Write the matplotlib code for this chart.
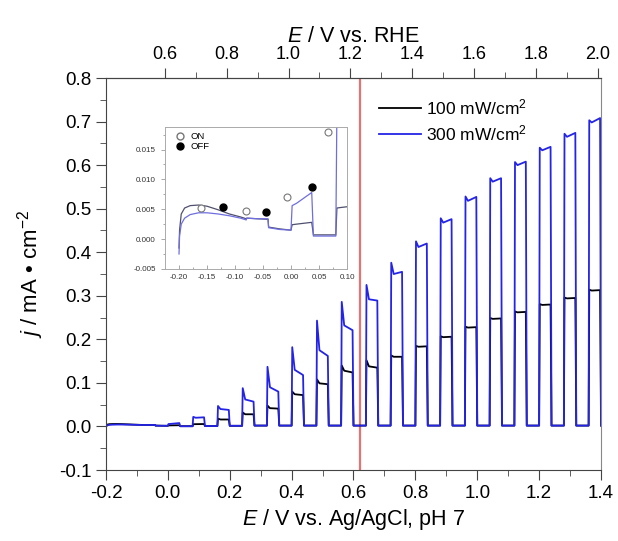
import matplotlib
matplotlib.use("Agg")
import matplotlib.pyplot as plt
from matplotlib.ticker import MultipleLocator, FixedLocator
from matplotlib.lines import Line2D

plt.rcParams["font.family"] = ["Liberation Sans", "DejaVu Sans"]
plt.rcParams["mathtext.fontset"] = "custom"
plt.rcParams["mathtext.it"] = "Liberation Sans:italic"
plt.rcParams["mathtext.rm"] = "Liberation Sans"

RHE_OFFSET = 0.61      # E(RHE) = E(Ag/AgCl) + 0.61 V at pH 7
E_OER_RHE = 1.23       # water oxidation potential
rhe_ticks = [0.6, 0.8, 1.0, 1.2, 1.4, 1.6, 1.8, 2.0]
rhe_minor = [0.7, 0.9, 1.1, 1.3, 1.5, 1.7, 1.9]

# dark scan before chopping starts (V vs Ag/AgCl, mA/cm2)
pre_E = [-0.200, -0.199, -0.196, -0.190, -0.180, -0.165, -0.150, -0.130, -0.110,
         -0.090, -0.080, -0.079, -0.060, -0.041, -0.040, -0.020, -0.001]
pre_j_100 = [-0.0015, 0.0015, 0.0042, 0.0052, 0.0056, 0.0057, 0.0055, 0.0049, 0.0042,
             0.0037, 0.0034, 0.0035, 0.0034, 0.0033, 0.0020, 0.0017, 0.0015]
pre_j_300 = [-0.0025, 0.0005, 0.0025, 0.0035, 0.0041, 0.0044, 0.0044, 0.0042, 0.0039,
             0.0035, 0.0032, 0.0035, 0.0034, 0.0034, 0.0019, 0.0016, 0.0015]

# light ON at each potential for 0.04 V, then 0.04 V dark
on_start = [0.00, 0.08, 0.16, 0.24, 0.32, 0.40, 0.48, 0.56, 0.64,
            0.72, 0.80, 0.88, 0.96, 1.04, 1.12, 1.20, 1.28, 1.36]

# 100 mW/cm2: transient peak, after decay, end of ON, dark level after
peak_100 = [0.0024, 0.0052, 0.018, 0.032, 0.048, 0.080, 0.108, 0.140, 0.152,
            0.163, 0.185, 0.207, 0.229, 0.249, 0.264, 0.281, 0.296, 0.314]
knee_100 = [0.0025, 0.0053, 0.016, 0.028, 0.042, 0.074, 0.099, 0.128, 0.138,
            0.160, 0.183, 0.205, 0.227, 0.247, 0.262, 0.279, 0.294, 0.312]
end_100 = [0.0028, 0.0056, 0.016, 0.028, 0.041, 0.072, 0.097, 0.124, 0.135,
           0.160, 0.184, 0.206, 0.228, 0.248, 0.263, 0.280, 0.295, 0.313]
dark_100 = [0.0007, 0.0010, 0.0015, 0.002, 0.002, 0.002, 0.002, 0.002, 0.002,
            0.002, 0.002, 0.002, 0.002, 0.002, 0.002, 0.002, 0.002, 0.002]

# 300 mW/cm2
peak_300 = [0.0056, 0.022, 0.047, 0.088, 0.137, 0.182, 0.243, 0.286, 0.325,
            0.376, 0.425, 0.478, 0.528, 0.570, 0.607, 0.640, 0.672, 0.703]
knee_300 = [0.0060, 0.020, 0.040, 0.062, 0.090, 0.130, 0.175, 0.232, 0.292,
            0.350, 0.412, 0.468, 0.518, 0.562, 0.600, 0.634, 0.665, 0.698]
end_300 = [0.0078, 0.021, 0.038, 0.057, 0.080, 0.118, 0.162, 0.221, 0.289,
           0.355, 0.420, 0.476, 0.527, 0.570, 0.608, 0.642, 0.674, 0.708]
dark_300 = [0.0005, 0.0010, 0.0015, 0.002, 0.002, 0.002, 0.002, 0.002, 0.002,
            0.002, 0.002, 0.002, 0.002, 0.002, 0.002, 0.002, 0.002, 0.002]

# inset markers
on_E = [-0.161, -0.080, -0.007, 0.066]
on_j = [0.0052, 0.0047, 0.0070, 0.0179]
off_E = [-0.122, -0.044, 0.037]
off_j = [0.0053, 0.0046, 0.0088]


def chopped(pre_j, peaks, knees, ends, darks):
    E = list(pre_E)
    j = list(pre_j)
    last = pre_j[-1]
    for t0, pk, kn, en, dk in zip(on_start, peaks, knees, ends, darks):
        E += [t0, t0 + 0.002, t0 + 0.010, t0 + 0.037, t0 + 0.040, t0 + 0.080]
        j += [last, pk, kn, en, dk, dk]
        last = dk
    # scan ends at the close of the last ON period
    return E[:-1], j[:-1]


E100, j100 = chopped(pre_j_100, peak_100, knee_100, end_100, dark_100)
E300, j300 = chopped(pre_j_300, peak_300, knee_300, end_300, dark_300)

BLUE = "#2424e6"
SPINE = "#444444"
fmt1 = plt.FuncFormatter(lambda v, p: f"{v:.1f}")

fig = plt.figure(figsize=(6.18, 5.41), dpi=100)
ax = fig.add_axes([0.1715, 0.1312, 0.801, 0.7246])

ax.plot(E100, j100, color="black", lw=1.3, label="100 mW/cm$^2$")
ax.plot(E300, j300, color=BLUE, lw=1.3, label="300 mW/cm$^2$")
ax.axvline(E_OER_RHE - RHE_OFFSET, color="#e57373", lw=1.6, zorder=0)

ax.set_xlim(-0.2, 1.4)
ax.set_ylim(-0.1, 0.8)
ax.xaxis.set_major_locator(MultipleLocator(0.2))
ax.xaxis.set_minor_locator(MultipleLocator(0.1))
ax.yaxis.set_major_locator(MultipleLocator(0.1))
ax.yaxis.set_minor_locator(MultipleLocator(0.05))
ax.xaxis.set_major_formatter(fmt1)
ax.yaxis.set_major_formatter(fmt1)
ax.tick_params(which="both", direction="out", colors=SPINE, labelcolor="black",
               labelsize=13.5, top=False, right=False)
ax.tick_params(which="major", length=7)
ax.tick_params(which="minor", length=4)
for s in ax.spines.values():
    s.set_color(SPINE)
ax.spines["right"].set_color("#888888")

ax.set_xlabel("$E$ / V vs. Ag/AgCl, pH 7", fontsize=15.5, labelpad=4)
ax.set_ylabel("$j$ / mA • cm$^{-2}$", fontsize=16, labelpad=9)

top = ax.secondary_xaxis("top", functions=(lambda x: x + RHE_OFFSET,
                                           lambda x: x - RHE_OFFSET))
top.xaxis.set_major_locator(FixedLocator(rhe_ticks))
top.xaxis.set_minor_locator(FixedLocator(rhe_minor))
top.xaxis.set_major_formatter(fmt1)
top.tick_params(which="both", direction="out", colors=SPINE, labelcolor="black",
                labelsize=13)
top.tick_params(which="major", length=7)
top.tick_params(which="minor", length=4)
top.spines["top"].set_color(SPINE)
top.set_xlabel("$E$ / V vs. RHE", fontsize=15.5, labelpad=3)

ax.legend(loc="upper left", bbox_to_anchor=(0.52, 0.99), frameon=False,
          fontsize=12.5, handlelength=2.4, handletextpad=0.3, labelspacing=0.35)

# inset: onset region
ins = fig.add_axes([0.267, 0.503, 0.2945, 0.2625])
ins.plot(E100, j100, color="#50506e", lw=0.9)
ins.plot(E300, j300, color="#6e6ee0", lw=0.9)
ins.plot(on_E, on_j, "o", ms=5, mfc="white", mec="#777777", mew=0.8, ls="none")
ins.plot(off_E, off_j, "o", ms=5, mfc="black", mec="black", ls="none")
ins.set_xlim(-0.225, 0.10)
ins.set_ylim(-0.005, 0.0188)
ins.xaxis.set_major_locator(MultipleLocator(0.05))
ins.xaxis.set_minor_locator(MultipleLocator(0.025))
ins.yaxis.set_major_locator(MultipleLocator(0.005))
ins.yaxis.set_minor_locator(MultipleLocator(0.0025))
ins.xaxis.set_major_formatter(plt.FuncFormatter(lambda v, p: f"{v:.2f}"))
ins.yaxis.set_major_formatter(plt.FuncFormatter(lambda v, p: f"{v:.3f}"))
ins.tick_params(which="both", labelsize=5.8, colors="#999999", labelcolor="#333333",
                width=0.6)
ins.tick_params(axis="x", which="both", direction="in")
ins.tick_params(axis="y", which="both", direction="out")
ins.tick_params(which="major", length=3)
ins.tick_params(which="minor", length=1.6)
for s in ins.spines.values():
    s.set_color("#aaaaaa")
    s.set_linewidth(0.7)
handles = [Line2D([], [], marker="o", ls="none", ms=5, mfc="white", mec="#777777"),
           Line2D([], [], marker="o", ls="none", ms=5, mfc="black", mec="black")]
ins.legend(handles, ["ON", "OFF"], loc="upper left", frameon=False, fontsize=6.8,
           handletextpad=0.2, labelspacing=0.15, borderaxespad=0.15,
           bbox_to_anchor=(0.0, 1.0))

fig.savefig("out.png", dpi=100)
